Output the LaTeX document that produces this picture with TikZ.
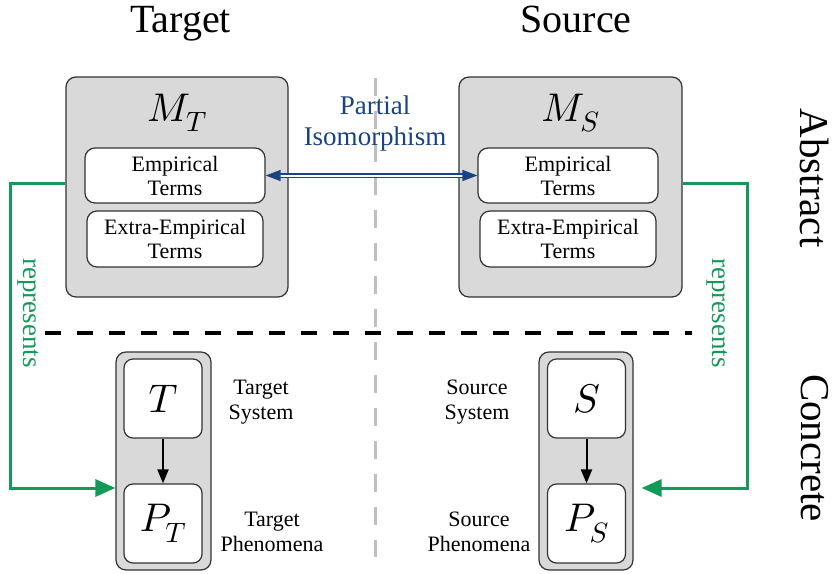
\documentclass[tikz,border=0pt]{standalone}
\usepackage{fontspec}
\setmainfont{Liberation Serif}
\DeclareFontFamily{OML}{cmm}{\skewchar\font127}
\DeclareFontShape{OML}{cmm}{m}{it}{<-8.5> cmmi7 <8.5-> cmmi10}{}
\usetikzlibrary{arrows.meta}
\definecolor{grn}{HTML}{13995A}
\definecolor{blu}{HTML}{1A4383}
\definecolor{boxgray}{HTML}{D9D9D9}
\definecolor{bord}{HTML}{333333}
\tikzset{
  outerbox/.style={draw=bord, line width=1.2pt, fill=boxgray, rounded corners=10pt, inner sep=0pt},
  innerbox/.style={draw=bord, line width=1.2pt, fill=white, rounded corners=10pt, inner sep=0pt, align=center, font=\fontsize{22}{24}\selectfont},
  sysbox/.style={draw=bord, line width=1.2pt, fill=white, rounded corners=9pt, inner sep=0pt, minimum width=78pt, minimum height=79pt, font=\fontsize{40}{48}\selectfont},
  sidelabel/.style={align=center, font=\fontsize{22}{25}\selectfont},
  title/.style={font=\fontsize{40}{48}\selectfont, anchor=base},
  vtitle/.style={font=\fontsize{41}{48}\selectfont, rotate=-90},
  replabel/.style={text=grn, font=\fontsize{27}{30}\selectfont, rotate=-90},
  greenline/.style={draw=grn, line width=3pt},
  greentip/.style={-{Triangle[length=20pt,width=17pt]}},
}
\begin{document}
\begin{tikzpicture}[x=1pt,y=-1pt]
\useasboundingbox (0,0) rectangle (837,573);

% divider lines
\coordinate (vtop) at (375,78);
\coordinate (vbot) at (375,557);
\draw[color=black!25, line width=3pt, dash pattern=on 18pt off 15pt] (vtop) -- (vbot);
\coordinate (hl) at (45,333);
\coordinate (hr) at (692,333);
\draw[black, line width=3.5pt, dash pattern=on 16pt off 16pt] (hl) -- (hr);

% titles
\node[title] (ttl) at (180.5,32) {Target};
\node[title] (stl) at (576,32) {Source};
\node[vtitle] (abs) at (815,178) {Abstract};
\node[vtitle] (con) at (815,448) {Concrete};

% abstract boxes
\node[outerbox, minimum width=222pt, minimum height=220pt] (MT) at (177,187) {};
\node[font=\fontsize{40}{48}\selectfont] (MTl) at (177,113) {$M_T$};
\node[innerbox, minimum width=180pt, minimum height=55pt] (ET) at (175,175.5) {Empirical\\Terms};
\node[innerbox, minimum width=176pt, minimum height=56pt] (XT) at (175,239) {Extra-Empirical\\Terms};

\node[outerbox, minimum width=223pt, minimum height=220pt] (MS) at (570.5,187) {};
\node[font=\fontsize{40}{48}\selectfont] (MSl) at (570.5,113) {$M_S$};
\node[innerbox, minimum width=180pt, minimum height=55pt] (ES) at (568,175.5) {Empirical\\Terms};
\node[innerbox, minimum width=176pt, minimum height=56pt] (XS) at (568,239) {Extra-Empirical\\Terms};

% partial isomorphism
\node[text=blu, align=center, font=\fontsize{27}{31}\selectfont] (PI) at (375,124) {Partial\\Isomorphism};
\draw[draw=blu, line width=1.3pt, double=white, double distance=2pt,
  {Triangle[length=15pt,width=11pt]}-{Triangle[length=15pt,width=11pt]}] (ET.east) -- (ES.west);

% concrete boxes
\node[outerbox, minimum width=95pt, minimum height=218pt] (LC) at (163.5,461) {};
\node[sysbox] (T) at (163,398.5) {$T$};
\node[sysbox] (PT) at (163,523.5) {$P_T$};
\draw[black, line width=2pt, -{Triangle[length=14pt,width=11pt]}] (T.south) -- (PT.north);

\node[outerbox, minimum width=94pt, minimum height=218pt] (RC) at (586,461) {};
\node[sysbox] (S) at (586.5,398.5) {$S$};
\node[sysbox] (PS) at (586.5,523.5) {$P_S$};
\draw[black, line width=2pt, -{Triangle[length=14pt,width=11pt]}] (S.south) -- (PS.north);

% side labels
\node[sidelabel] (tsys) at (261,402) {Target\\System};
\node[sidelabel] (tphe) at (272,532) {Target\\Phenomena};
\node[sidelabel] (ssys) at (477,402) {Source\\System};
\node[sidelabel] (sphe) at (479,532) {Source\\Phenomena};

% represents arrows
\coordinate (gl) at (10,183);
\coordinate (gr) at (747,183);
\draw[greenline, greentip] ([yshift=4pt]MT.west) -- (gl) |- (LC.west |- 0,488);
\draw[greenline, greentip, shorten >=8pt] ([yshift=4pt]MS.east) -- (gr) |- (RC.east |- 0,488);
\node[replabel] (repl) at (28,313) {represents};
\node[replabel] (repr) at (717,313) {represents};
\end{tikzpicture}
\end{document}
